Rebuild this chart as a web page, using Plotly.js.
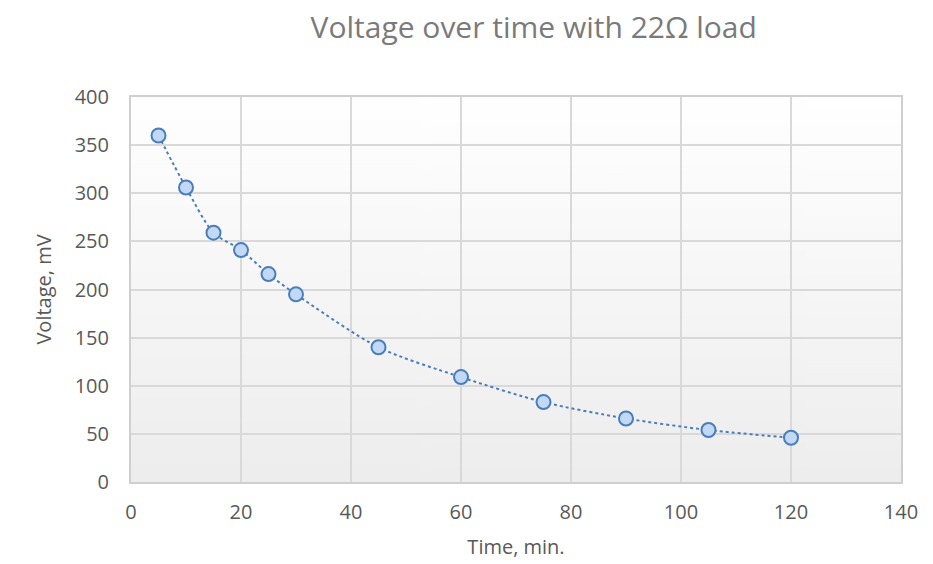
<!DOCTYPE html>
<html><head><meta charset="utf-8">
<script src="https://cdn.plot.ly/plotly-3.0.1.min.js"></script>
<style>html,body{margin:0;padding:0;background:#fff}#chart{width:933px;height:564px}</style>
</head><body><div id="chart"></div>
<script>
const timeMin = [5, 10, 15, 20, 25, 30, 45, 60, 75, 90, 105, 120];
const voltageMv = [360, 306, 259, 241, 216, 195, 140, 109, 83, 66, 54, 46];
const xTicks = [0, 20, 40, 60, 80, 100, 120, 140];
const yTicks = [0, 50, 100, 150, 200, 250, 300, 350, 400];

// gradient background image for plot area
const cv = document.createElement('canvas');
cv.width = 4; cv.height = 256;
const ctx = cv.getContext('2d');
const g = ctx.createLinearGradient(0, 0, 0, 256);
g.addColorStop(0, '#ffffff');
g.addColorStop(1, '#ededed');
ctx.fillStyle = g; ctx.fillRect(0, 0, 4, 256);
const bg = cv.toDataURL();

const font = '"Open Sans", "Noto Sans", sans-serif';
Plotly.newPlot('chart', [{
  x: timeMin, y: voltageMv, type: 'scatter', mode: 'lines+markers',
  line: {shape: 'spline', smoothing: 0.8, dash: 'dot', color: '#4a7ebb', width: 2},
  marker: {size: 14, color: '#c2d8f7', line: {color: '#4a7ebb', width: 2}}
}], {
  width: 933, height: 564,
  margin: {l: 131, r: 32, t: 97, b: 82},
  paper_bgcolor: '#ffffff', plot_bgcolor: 'rgba(0,0,0,0)',
  showlegend: false,
  title: {text: 'Voltage over time with 22Ω load', xref: 'container', x: 0.572, xanchor: 'center',
    yref: 'container', y: 0.952, yanchor: 'middle',
    font: {family: font, size: 30, color: '#7a7a7a'}},
  images: [{source: bg, xref: 'paper', yref: 'paper', x: 0, y: 1, sizex: 1, sizey: 1,
    sizing: 'stretch', layer: 'below', xanchor: 'left', yanchor: 'top'}],
  xaxis: {range: [0, 140], tickvals: xTicks, ticks: '', showgrid: true, gridcolor: '#d9d9d9', gridwidth: 2,
    zeroline: false, showline: true, linecolor: '#cfcfcf', linewidth: 2, mirror: true,
    ticklabelstandoff: 11,
    tickfont: {family: font, size: 20, color: '#595959'},
    title: {text: 'Time, min.', font: {family: font, size: 20, color: '#595959'}, standoff: 16}},
  yaxis: {range: [0, 400], tickvals: yTicks, ticks: '', showgrid: true, gridcolor: '#d9d9d9', gridwidth: 2,
    zeroline: false, showline: true, linecolor: '#cfcfcf', linewidth: 2, mirror: true,
    ticklabelstandoff: 16,
    tickfont: {family: font, size: 20, color: '#595959'},
    title: {text: 'Voltage, mV', font: {family: font, size: 20, color: '#595959'}, standoff: 18}}
}, {staticPlot: true});
</script></body></html>
